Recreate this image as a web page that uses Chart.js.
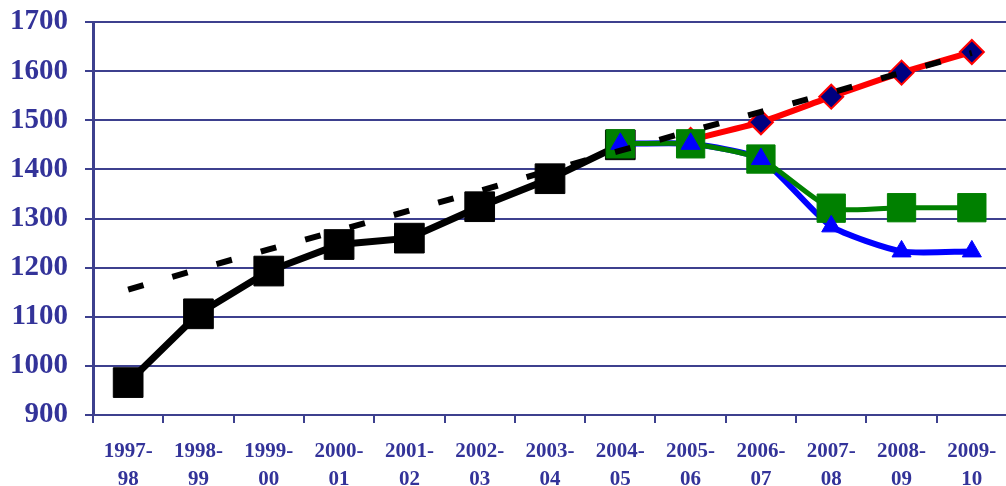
<!DOCTYPE html>
<html>
<head>
<meta charset="utf-8">
<script src="https://cdn.jsdelivr.net/npm/chart.js@4/dist/chart.umd.min.js"></script>
<style>
  html, body { margin: 0; padding: 0; background: #ffffff; overflow: hidden; }
  #wrap { width: 1029px; height: 486px; position: relative; }
</style>
</head>
<body>
<div id="wrap"><canvas id="chart"></canvas></div>
<script>
// School years on the horizontal axis
const years = ['1997-98', '1998-99', '1999-00', '2000-01', '2001-02', '2002-03', '2003-04',
               '2004-05', '2005-06', '2006-07', '2007-08', '2008-09', '2009-10'];

// Recorded figures up to 2004-05
const actual = [966, 1106, 1193, 1247, 1260, 1324, 1381, 1450, null, null, null, null, null];

// Long-run trend
const trend = [1155, 1197, 1237, 1276, 1316, 1356, 1398, 1438, 1478, 1517, 1556, 1597, 1637];

// Projections from 2004-05 onward
const projHigh = [null, null, null, null, null, null, null, null, 1460, 1496, 1548, 1597, 1639];
const projMid  = [null, null, null, null, null, null, null, 1452, 1452, 1421, 1321, 1322, 1322];
const projLow  = [null, null, null, null, null, null, null, 1452, 1452, 1421, 1284, 1233, 1233];

// Value axis ticks
const yTicks = [900, 1000, 1100, 1200, 1300, 1400, 1500, 1600, 1700];

const NAVY = '#333399';
const GRID = '#3d408e';
const FONT = "'Liberation Serif', 'Times New Roman', serif";

new Chart(document.getElementById('chart'), {
  type: 'line',
  data: {
    labels: years,
    datasets: [
      {
        data: trend,
        borderColor: '#000000',
        borderWidth: 6,
        borderDash: [16, 30],
        borderCapStyle: 'butt',
        pointRadius: 0,
        tension: 0,
        fill: false
      },
      {
        // low projection markers (drawn above the mid projection)
        data: projLow,
        showLine: false,
        pointStyle: 'triangle',
        pointRadius: 11,
        pointBackgroundColor: '#0000ff',
        pointBorderColor: '#0000ff',
        pointBorderWidth: 1
      },
      {
        data: projMid,
        borderColor: '#008000',
        borderWidth: 5,
        tension: 0.2,
        pointStyle: 'rect',
        pointRadius: 20,
        pointBackgroundColor: '#008000',
        pointBorderColor: '#008000',
        pointBorderWidth: 1,
        fill: false
      },
      {
        // low projection line
        data: projLow,
        borderColor: '#0000ff',
        borderWidth: 6,
        tension: 0.2,
        pointRadius: 0,
        fill: false
      },
      {
        data: projHigh,
        borderColor: '#ff0000',
        borderWidth: 6,
        tension: 0.15,
        pointStyle: 'rectRot',
        pointRadius: 12,
        pointBackgroundColor: '#000080',
        pointBorderColor: '#ff0000',
        pointBorderWidth: 2,
        fill: false
      },
      {
        data: actual,
        borderColor: '#000000',
        borderWidth: 7,
        tension: 0,
        pointStyle: 'rect',
        pointRadius: 21,
        pointBackgroundColor: '#000000',
        pointBorderColor: '#000000',
        pointBorderWidth: 1,
        fill: false
      }
    ]
  },
  options: {
    responsive: true,
    maintainAspectRatio: false,
    animation: false,
    events: [],
    layout: { padding: { top: 19, right: 3, left: 0, bottom: 0 } },
    plugins: {
      legend: { display: false },
      title: { display: false },
      tooltip: { enabled: false }
    },
    scales: {
      x: {
        type: 'category',
        offset: true,
        border: { display: true, color: GRID, width: 2 },
        grid: {
          offset: true,
          drawOnChartArea: false,
          drawTicks: true,
          tickLength: 8,
          color: GRID,
          lineWidth: 2
        },
        ticks: {
          color: NAVY,
          padding: 14,
          maxRotation: 0,
          autoSkip: false,
          font: { family: FONT, size: 21, weight: 'bold', lineHeight: 1.35 },
          callback: function (value) {
            const parts = this.getLabelForValue(value).split('-');
            return [parts[0] + '-', parts[1]];
          }
        },
        afterFit: function (scale) { scale.height = 71; }
      },
      y: {
        min: 900,
        max: 1700,
        border: { display: true, color: GRID, width: 3 },
        grid: {
          color: GRID,
          lineWidth: 2,
          tickLength: 8
        },
        afterBuildTicks: function (scale) {
          scale.ticks = yTicks.map(v => ({ value: v }));
        },
        ticks: {
          color: NAVY,
          padding: 17,
          font: { family: FONT, size: 29, weight: 'bold' },
          callback: function (value) { return String(value); }
        },
        afterFit: function (scale) {
          scale.width = 93;
          scale.paddingTop = 0;
          scale.paddingBottom = 0;
        }
      }
    }
  }
});
</script>
</body>
</html>
